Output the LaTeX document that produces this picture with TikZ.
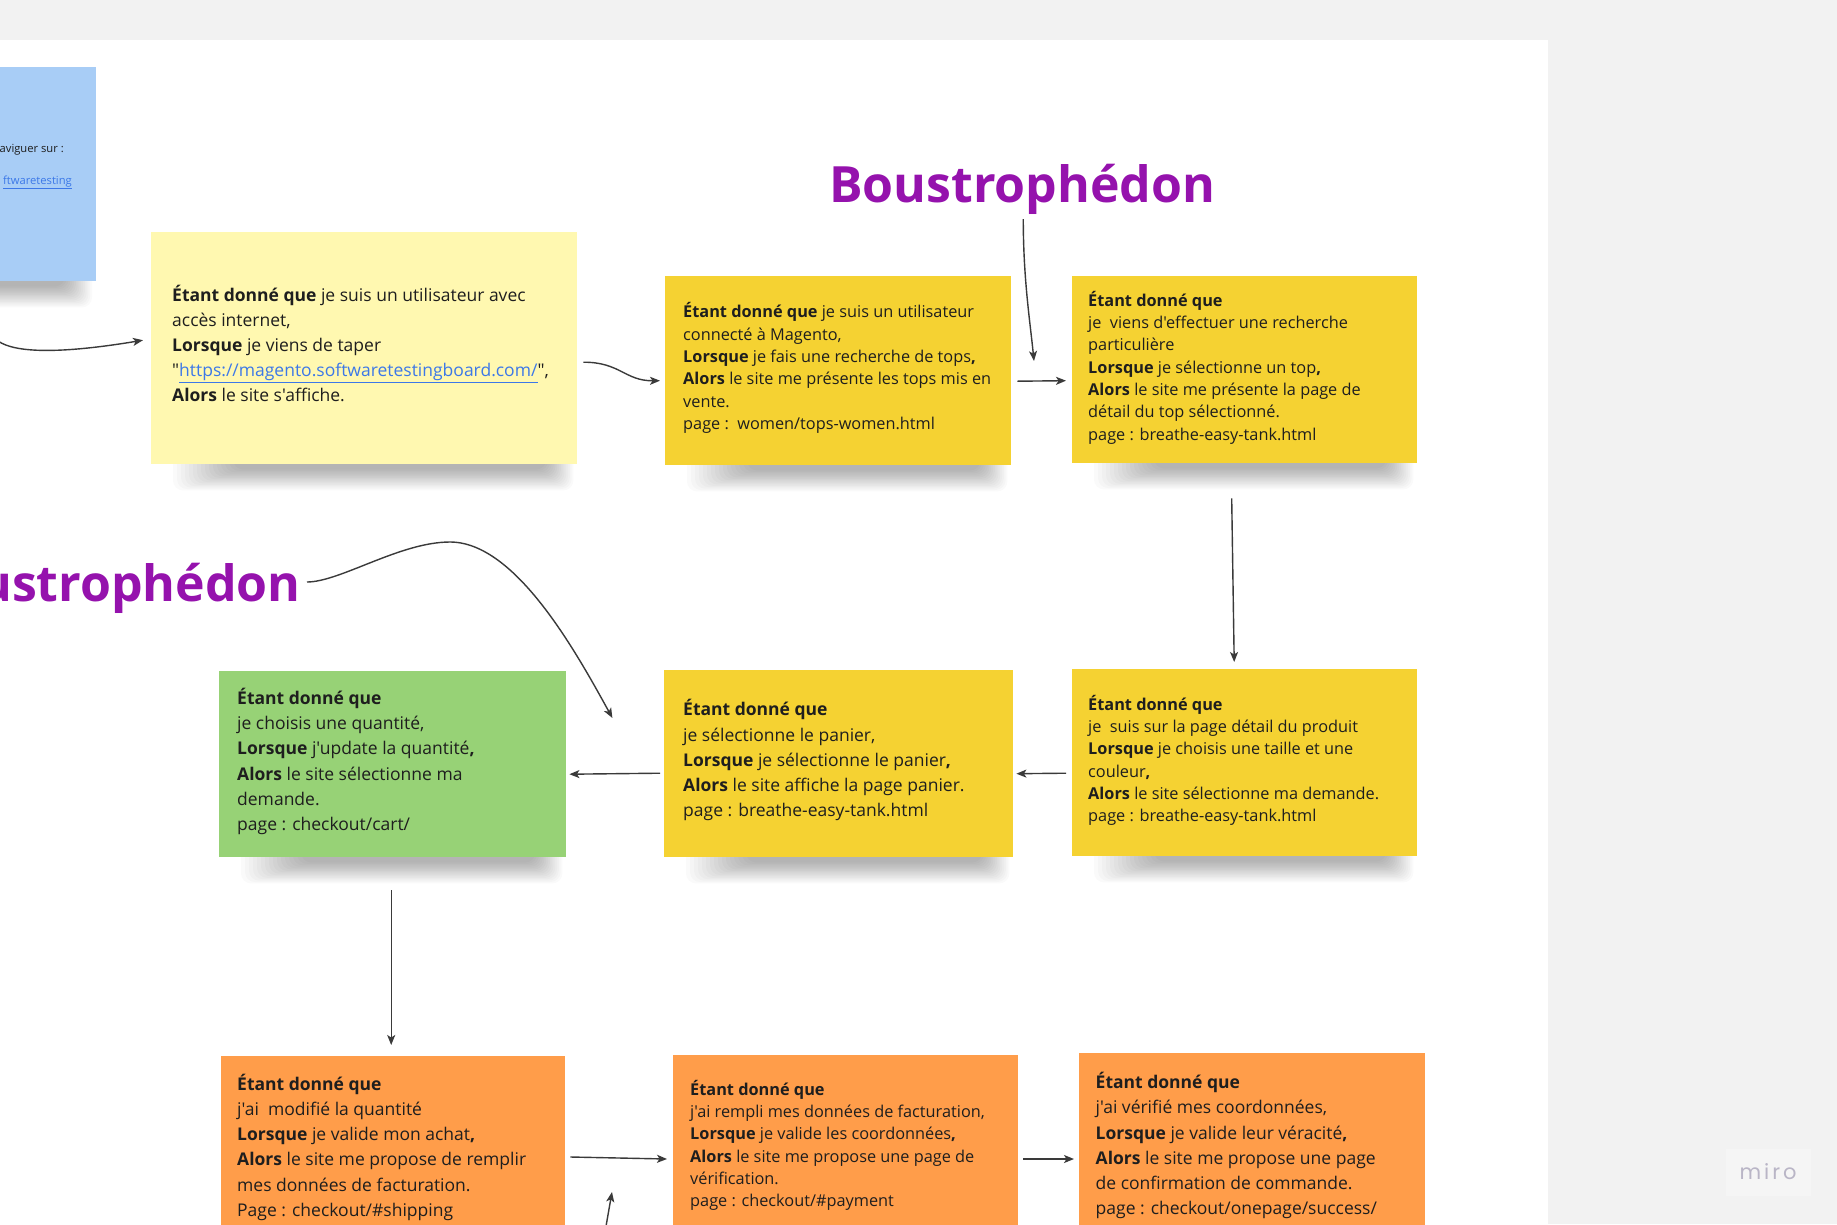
\documentclass[tikz,border=0pt]{standalone}
\usepackage{fontspec}
\setmainfont{Open Sans}
\newfontfamily\notefont{Open Sans}
\newfontfamily\logofont[LetterSpace=14]{Poppins}
\usetikzlibrary{arrows.meta,calc}
\definecolor{bggray}{HTML}{F2F2F2}
\definecolor{notelight}{HTML}{FFF8B0}
\definecolor{noteyellow}{HTML}{F5D232}
\definecolor{notegreen}{HTML}{97D276}
\definecolor{noteorange}{HTML}{FF9D4A}
\definecolor{noteblue}{HTML}{A8CDF6}
\definecolor{titlepurple}{HTML}{9512AD}
\definecolor{linkblue}{HTML}{3C78E8}
\definecolor{inkc}{HTML}{1E1E1E}
\definecolor{arrowc}{HTML}{3A3A3A}
\definecolor{logoc}{HTML}{B9B5C6}
\definecolor{logobox}{HTML}{F5F5F5}
\pgfdeclarelayer{bglayer}
\pgfdeclarelayer{shadowlayer}
\pgfsetlayers{bglayer,shadowlayer,main}
\newcommand\bigtext{\notefont\fontsize{17.5}{25.2}\selectfont}
\newcommand\smalltext{\notefont\fontsize{16.3}{22.3}\selectfont}
\newcommand\noteshadow[1]{%
  \begin{pgfonlayer}{shadowlayer}
  \foreach \k in {0,...,15}{
    \fill[black, opacity=0.021, rounded corners=10pt]
      ($(#1.south west)+(22+4*\k,-12)$) rectangle ($(#1.south east)+(-4-1.8*\k,26-1.4*\k)$);
  }
  \end{pgfonlayer}}
\begin{document}
\begin{tikzpicture}[x=1pt,y=-1pt,
  note/.style={draw=none, inner sep=0pt, rectangle, anchor=north west},
  notetext/.style={anchor=west, inner sep=0pt, align=left, text=inkc},
  titletext/.style={inner sep=0pt, text=titlepurple, font=\notefont\bfseries\fontsize{50}{60}\selectfont},
  conn/.style={draw=arrowc, line width=1.4pt, -{Stealth[length=10pt,width=8pt,inset=2.5pt]}}]
\useasboundingbox (0,0) rectangle (1837,1224);
\begin{pgfonlayer}{bglayer}
  \fill[bggray] (0,0) rectangle (1837,1224);
  \fill[white] (0,40) rectangle (1548,1224);
\end{pgfonlayer}

% notes
\node[note, anchor=north east, fill=noteblue, minimum width=200, minimum height=214] (n0) at (96,67) {};
\node[note, fill=notelight, minimum width=426, minimum height=232] (n1) at (151,232) {};
\node[note, fill=noteyellow, minimum width=346, minimum height=189] (n2) at (665,276) {};
\node[note, fill=noteyellow, minimum width=345, minimum height=187] (n3) at (1072,276) {};
\node[note, fill=noteyellow, minimum width=345, minimum height=187] (n4) at (1072,669) {};
\node[note, fill=noteyellow, minimum width=349, minimum height=187] (n5) at (664,670) {};
\node[note, fill=notegreen, minimum width=347, minimum height=186] (n6) at (219,671) {};
\node[note, fill=noteorange, minimum width=344, minimum height=200] (n7) at (221,1056) {};
\node[note, fill=noteorange, minimum width=345, minimum height=200] (n8) at (673,1055) {};
\node[note, fill=noteorange, minimum width=346, minimum height=200] (n9) at (1079,1053) {};
\foreach \n in {n0,n1,n2,n3,n4,n5,n6,n7,n8,n9}{\noteshadow{\n}}

% blue note texts
\node[anchor=base east, inner sep=0pt, text=inkc, font=\notefont\fontsize{11.2}{14}\selectfont] (b1) at (64,152) {aviguer sur :};
\node[anchor=base east, inner sep=0pt, text=linkblue, font=\notefont\fontsize{11.2}{14}\selectfont] (b2) at (72,184) {\underline{ftwaretesting}};

% note texts
\node[notetext, font=\bigtext] (t1) at (172,343.5) {\textbf{Étant donné que} je suis un utilisateur avec\\accès internet,\\\textbf{Lorsque} je viens de taper\\"\textcolor{linkblue}{\underline{https://magento.softwaretestingboard.com/}}",\\\textbf{Alors} le site s'affiche.};
\node[notetext, font=\smalltext] (t2) at (683,368) {\textbf{Étant donné que} je suis un utilisateur\\connecté à Magento,\\\textbf{Lorsque} je fais une recherche de tops\textbf{,}\\\textbf{Alors} le site me présente les tops mis en\\vente.\\page :\ \ women/tops-women.html};
\node[notetext, font=\smalltext] (t3) at (1088,367.5) {\textbf{Étant donné que}\\je\ \ viens d'effectuer une recherche\\particulière\\\textbf{Lorsque} je sélectionne un top\textbf{,}\\\textbf{Alors} le site me présente la page de\\détail du top sélectionné.\\page : breathe-easy-tank.html};
\node[notetext, font=\smalltext] (t4) at (1088,760.5) {\textbf{Étant donné que}\\je\ \ suis sur la page détail du produit\\\textbf{Lorsque} je choisis une taille et une\\couleur\textbf{,}\\\textbf{Alors} le site sélectionne ma demande.\\page : breathe-easy-tank.html};
\node[notetext, font=\bigtext] (t5) at (683,760.3) {\textbf{Étant donné que}\\je sélectionne le panier,\\\textbf{Lorsque} je sélectionne le panier\textbf{,}\\\textbf{Alors} le site affiche la page panier.\\page : breathe-easy-tank.html};
\node[notetext, font=\bigtext] (t6) at (237,761.5) {\textbf{Étant donné que}\\je choisis une quantité,\\\textbf{Lorsque} j'update la quantité\textbf{,}\\\textbf{Alors} le site sélectionne ma\\demande.\\page : checkout/cart/};
\node[notetext, font=\bigtext] (t7) at (237,1147.3) {\textbf{Étant donné que}\\j'ai\ \ modifié la quantité\\\textbf{Lorsque} je valide mon achat\textbf{,}\\\textbf{Alors} le site me propose de remplir\\mes données de facturation.\\Page : checkout/\#shipping};
\node[notetext, font=\smalltext] (t8) at (690,1145.5) {\textbf{Étant donné que}\\j'ai rempli mes données de facturation,\\\textbf{Lorsque} je valide les coordonnées\textbf{,}\\\textbf{Alors} le site me propose une page de\\vérification.\\page : checkout/\#payment};
\node[notetext, font=\bigtext] (t9) at (1095.5,1145.7) {\textbf{Étant donné que}\\j'ai vérifié mes coordonnées,\\\textbf{Lorsque} je valide leur véracité\textbf{,}\\\textbf{Alors} le site me propose une page\\de confirmation de commande.\\page : checkout/onepage/success/};

% titles
\node[titletext, anchor=base west] (title1) at (829,202) {Boustrophédon};
\node[titletext, anchor=base east] (title2) at (301,601) {Boustrophédon};

% logo
\node[fill=logobox, minimum width=85, minimum height=47, inner sep=0pt, text=logoc, font=\logofont\fontsize{21}{24}\selectfont] (logo) at (1768,1172) {miro};

% connectors
\coordinate (a1s) at (-2,341);
\draw[conn] (a1s) .. controls (15,353) and (60,354) .. ($(n1.west)+(-8,-8)$);
\draw[conn] ($(n1.east)+(6,14)$) .. controls (620,362) and (625,381) .. ($(n2.west)+(-5,10)$);
\draw[conn] ($(n2.east)+(6,10.5)$) -- ($(n3.west)+(-6,11)$);
\draw[conn] ($(title1.base)+(1,17)$) .. controls +(0,60) and +(-4,-40) .. ($(n3.north west)+(-38,85)$);
\draw[conn] ($(n3.south)+(-13,35)$) -- ($(n4.north)+(-10.5,-7)$);
\draw[conn] ($(n4.west)+(-6,10.5)$) -- ($(n5.east)+(3,10)$);
\draw[conn] ($(n5.west)+(-4,9.5)$) -- ($(n6.east)+(3,10)$);
\coordinate (a8peak) at (450,542);
\draw[conn] ($(title2.base east)+(6,-19)$) .. controls (340,582) and (400,542) .. (a8peak) .. controls (515,542) and (575,650) .. ($(n6.north east)+(46,47)$);
\draw[conn] ($(n6.south)+(-1.5,33)$) -- ($(n7.north)+(-2,-11)$);
\draw[conn] ($(n7.north east)+(5,101)$) -- ($(n8.north west)+(-6,104)$);
\draw[conn] ($(n8.north east)+(5,104)$) -- ($(n9.north west)+(-5,106)$);
\coordinate (a12s) at (605,1232);
\draw[conn] (a12s) -- ($(n8.north west)+(-61,137)$);
\end{tikzpicture}
\end{document}
